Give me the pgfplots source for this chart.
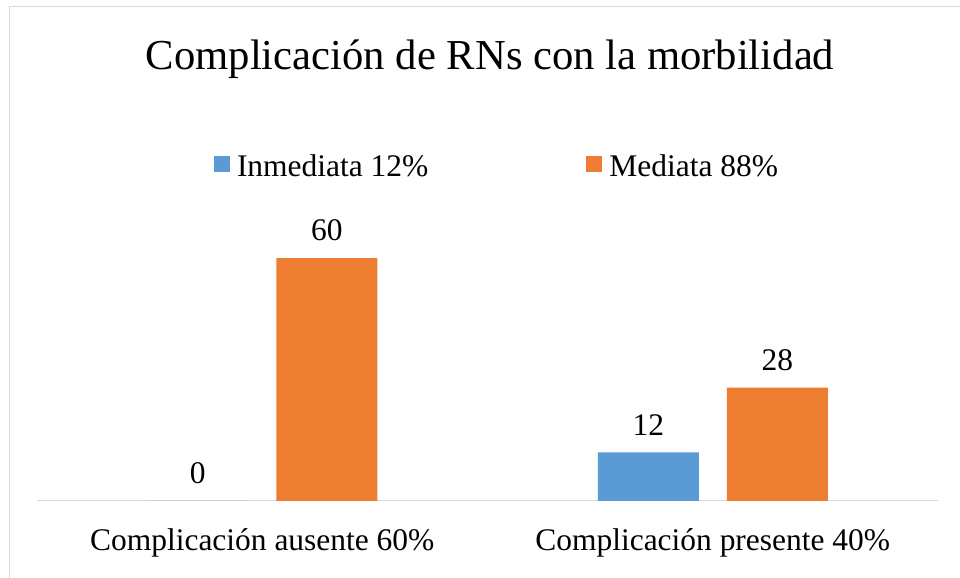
\documentclass[border=0pt]{standalone}
\usepackage{fontspec}
\setmainfont{Liberation Serif}
\usepackage{pgfplots}
\pgfplotsset{compat=1.18}
\definecolor{cblue}{HTML}{5B9BD5}
\definecolor{corange}{HTML}{ED7D31}
\definecolor{cgrid}{HTML}{D9D9D9}
\pgfplotsset{sqlegend/.style={legend image code/.code={\fill[##1] (0pt,-3.75pt) rectangle (12pt,8.25pt);}}}
\begin{document}
\begin{tikzpicture}
\useasboundingbox (0,0) rectangle (720pt,433.5pt);
\fill[white] (0,0) rectangle (720pt,433.5pt);
\draw[cgrid, line width=0.75pt] (7.1pt,-5pt) -- (7.1pt,428.6pt) -- (725pt,428.6pt);
\node[anchor=base, inner sep=0pt, font=\fontsize{32}{38}\selectfont] at (367.5pt,381pt) {Complicación de RNs con la morbilidad};
\begin{axis}[
  at={(27.75pt,57.75pt)}, anchor=south west,
  scale only axis, width=675.75pt, height=212.625pt,
  xmin=-0.5, xmax=1.5, ymin=0, ymax=70,
  ybar=21pt, bar width=75.75pt,
  axis x line*=bottom, axis y line=none,
  x axis line style={cgrid, line width=0.75pt, -},
  xtick={0,1},
  xticklabels={Complicación ausente 60\%, Complicación presente 40\%},
  ytick=\empty,
  major tick length=0pt,
  xticklabel style={font=\fontsize{23.6}{28}\selectfont, anchor=base, inner sep=0pt, yshift=-36.75pt},
  /pgf/number format/assume math mode=true,
  nodes near coords,
  every node near coord/.append style={font=\fontsize{23.6}{28}\selectfont, inner sep=0pt, yshift=12.4pt, text=black},
  legend columns=2,
  legend style={at={(0.19645,1.1795)}, anchor=west, draw=none, fill=none,
    inner sep=0pt, outer sep=0pt, font=\fontsize{23.6}{28}\selectfont,
    nodes={inner sep=0pt},
    /tikz/every odd column/.append style={column sep=5.25pt},
    /tikz/every even column/.append style={column sep=118.5pt}},
]
\addplot[fill=cblue, draw=none, sqlegend] coordinates {(0,0) (1,12)};
\addlegendentry{Inmediata 12\%}
\addplot[fill=corange, draw=none, sqlegend] coordinates {(0,60) (1,28)};
\addlegendentry{Mediata 88\%}
\end{axis}
\end{tikzpicture}
\end{document}
